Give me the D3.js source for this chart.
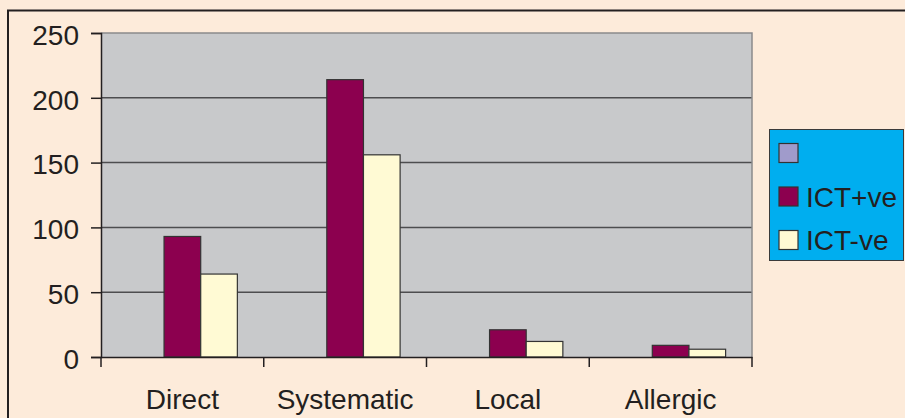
<!DOCTYPE html>
<html>
<head>
<meta charset="utf-8">
<script src="https://cdn.jsdelivr.net/npm/d3@7"></script>
<style>
  body { margin: 0; background: #fdebda; }
  svg { display: block; font-family: "Liberation Sans", Arial, sans-serif; }
</style>
</head>
<body>
<div id="chart"></div>
<script>
// chart data
const categories = ["Direct", "Systematic", "Local", "Allergic"];
const seriesNames = ["", "ICT+ve", "ICT-ve"];
const blankValues = [null, null, null, null];
const positiveValues = [93, 214, 21, 9];
const negativeValues = [64, 156, 12, 6];
const yTicks = [0, 50, 100, 150, 200, 250];

const seriesValues = [blankValues, positiveValues, negativeValues];
const seriesColors = ["#a09bcb", "#8c004f", "#fffad4"];

const width = 905;
const height = 418;
const margin = { top: 33, right: 153, bottom: 61, left: 101 };

const svg = d3.select("#chart").append("svg")
    .attr("width", width)
    .attr("height", height);

// outer frame (runs off the right and bottom edge)
svg.append("rect")
    .attr("x", 8)
    .attr("y", 10.5)
    .attr("width", 1000)
    .attr("height", 500)
    .attr("fill", "#fdebda")
    .attr("stroke", "#231f20")
    .attr("stroke-width", 2);

const x = d3.scaleBand()
    .domain(categories)
    .range([margin.left, width - margin.right])
    .padding(0);

const xSeries = d3.scaleBand()
    .domain(seriesNames.map((d, i) => i))
    .range([0, x.bandwidth()])
    .paddingInner(0)
    .paddingOuter(0.72);

const y = d3.scaleLinear()
    .domain([0, 250])
    .range([height - margin.bottom, margin.top]);

// plot background
svg.append("rect")
    .attr("x", margin.left)
    .attr("y", margin.top)
    .attr("width", width - margin.right - margin.left)
    .attr("height", y(0) - margin.top)
    .attr("fill", "#c8c9cb");

// gridlines
svg.append("g")
    .selectAll("line")
    .data(yTicks.filter(d => d > 0 && d < 250))
    .enter()
    .append("line")
    .attr("x1", margin.left)
    .attr("x2", width - margin.right)
    .attr("y1", d => y(d))
    .attr("y2", d => y(d))
    .attr("stroke", "#4d4d4f")
    .attr("stroke-width", 1.5);

// top + right border of plot area
svg.append("path")
    .attr("d", "M" + margin.left + "," + y(250) + "H" + (width - margin.right) + "V" + y(0))
    .attr("fill", "none")
    .attr("stroke", "#8a8a8c")
    .attr("stroke-width", 1.5);

// bars
const groups = svg.append("g")
    .selectAll("g")
    .data(seriesValues)
    .enter()
    .append("g")
    .attr("fill", (d, i) => seriesColors[i]);

groups.selectAll("rect")
    .data((vals, si) => vals.map((v, ci) => ({ v: v, si: si, cat: categories[ci] })).filter(d => d.v !== null))
    .enter()
    .append("rect")
    .attr("x", d => x(d.cat) + xSeries(d.si))
    .attr("y", d => y(d.v))
    .attr("width", xSeries.bandwidth())
    .attr("height", d => y(0) - y(d.v))
    .attr("stroke", "#333")
    .attr("stroke-width", 1.2);

// y axis
const yAxis = svg.append("g")
    .attr("transform", "translate(" + margin.left + ",0)")
    .call(d3.axisLeft(y).tickValues(yTicks).tickSize(10).tickPadding(12));

// x axis
const xAxis = svg.append("g")
    .attr("transform", "translate(0," + y(0) + ")")
    .call(d3.axisBottom(x).tickSize(0).tickPadding(0).tickSizeOuter(0));

xAxis.selectAll(".tick text")
    .attr("y", 52)
    .attr("dy", 0);

// x ticks at category boundaries
xAxis.append("g")
    .selectAll("line")
    .data(categories.concat(["end"]))
    .enter()
    .append("line")
    .attr("x1", (d, i) => i < categories.length ? x(d) : x(categories[i - 1]) + x.bandwidth())
    .attr("x2", (d, i) => i < categories.length ? x(d) : x(categories[i - 1]) + x.bandwidth())
    .attr("y1", 0)
    .attr("y2", 10)
    .attr("stroke", "#231f20")
    .attr("stroke-width", 1.5);

[yAxis, xAxis].forEach(function(ax) {
  ax.select(".domain").attr("stroke", "#231f20").attr("stroke-width", 1.5);
  ax.selectAll(".tick line").attr("stroke", "#231f20").attr("stroke-width", 1.5);
  ax.selectAll("text")
    .attr("font-family", "Liberation Sans, Arial, sans-serif")
    .attr("font-size", 28)
    .attr("fill", "#231f20");
});
yAxis.selectAll(".tick text").attr("dy", "0.4em");

// legend
const legend = svg.append("g");
legend.append("rect")
    .attr("x", 769.5)
    .attr("y", 129.5)
    .attr("width", 134)
    .attr("height", 131)
    .attr("fill", "#00aeef")
    .attr("stroke", "#3a3a3a")
    .attr("stroke-width", 1);

const items = legend.selectAll(".item")
    .data(seriesNames)
    .enter()
    .append("g")
    .attr("class", "item")
    .attr("transform", (d, i) => "translate(779," + (143.5 + i * 43.5) + ")");

items.append("rect")
    .attr("width", 19)
    .attr("height", 19)
    .attr("fill", (d, i) => seriesColors[i])
    .attr("stroke", "#333")
    .attr("stroke-width", 1.2);

items.append("text")
    .attr("x", 27)
    .attr("y", 19.5)
    .attr("font-size", 28)
    .attr("fill", "#231f20")
    .text(d => d);
</script>
</body>
</html>
